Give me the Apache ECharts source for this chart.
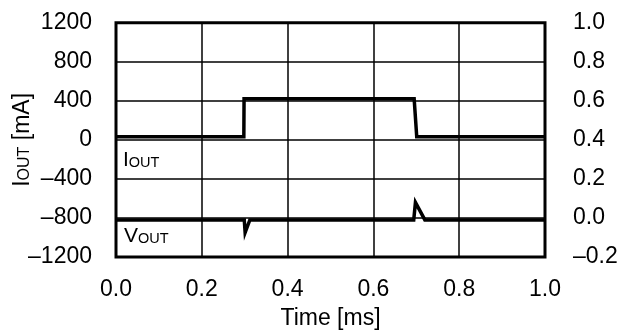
<!DOCTYPE html>
<html>
<head>
<meta charset="utf-8">
<script src="https://cdn.jsdelivr.net/npm/echarts@6/dist/echarts.min.js"></script>
<style>html,body{margin:0;padding:0;background:#fff;}#c{width:625px;height:335px;}</style>
</head>
<body>
<div id="c"></div>
<script>
// Data
const xTicks = [0, 0.2, 0.4, 0.6, 0.8, 1.0];
const leftTicks = [-1200, -800, -400, 0, 400, 800, 1200];
const rightTicks = [-0.2, 0, 0.2, 0.4, 0.6, 0.8, 1.0];
const iTime = [0, 0.298, 0.2985, 0.695, 0.701, 1.0];
const iCurrent = [33, 33, 420, 420, 33, 33];
const vTime = [0, 0.299, 0.301, 0.312, 0.694, 0.698, 0.72, 1.0];
const vOut = [-0.01, -0.01, -0.075, -0.01, -0.01, 0.08, -0.01, -0.01];

const FONT = 'Liberation Sans, Arial, sans-serif';
const FS = 23;
const dash = s => s.replace('-', '\u2013');
const rich = {
  a: {fontSize: FS, fontFamily: FONT, color: '#000', verticalAlign: 'bottom'},
  b: {fontSize: 16, fontFamily: FONT, color: '#000', verticalAlign: 'bottom', padding: [0, 0, 1, 0]}
};
const richS = {
  a: {fontSize: 21, fontFamily: FONT, color: '#000', verticalAlign: 'bottom'},
  b: {fontSize: 14.5, fontFamily: FONT, color: '#000', verticalAlign: 'bottom', padding: [0, 0, 1, 0]}
};

const chart = echarts.init(document.getElementById('c'), null, {renderer: 'canvas'});
chart.setOption({
  animation: false,
  backgroundColor: '#fff',
  grid: {left: 116, right: 80, top: 22.7, bottom: 78, show: true, borderColor: '#000', borderWidth: 3, containLabel: false, outerBoundsMode: 'none'},
  xAxis: {
    type: 'value', min: xTicks[0], max: xTicks[xTicks.length - 1], interval: 0.2,
    name: 'Time [ms]', nameLocation: 'middle', nameGap: 50, nameMoveOverlap: false,
    nameTextStyle: {fontSize: FS, fontFamily: FONT, color: '#000'},
    axisLine: {show: false}, axisTick: {show: false},
    axisLabel: {fontSize: FS, fontFamily: FONT, color: '#000', margin: 21, formatter: v => dash(v.toFixed(1))},
    splitLine: {show: true, lineStyle: {color: '#000', width: 1.5}}
  },
  yAxis: [{
    type: 'value', min: leftTicks[0], max: leftTicks[leftTicks.length - 1], interval: 400,
    name: '{a|I}{b|OUT}{a| [mA]}', nameLocation: 'middle', nameGap: 82, nameRotate: 90, nameMoveOverlap: false,
    nameTextStyle: {rich: rich},
    axisLine: {show: false}, axisTick: {show: false},
    axisLabel: {fontSize: FS, fontFamily: FONT, color: '#000', margin: 24, formatter: v => dash(String(v))},
    splitLine: {show: true, lineStyle: {color: '#000', width: 1.5}}
  }, {
    type: 'value', min: rightTicks[0], max: rightTicks[rightTicks.length - 1], interval: 0.2,
    axisLine: {show: false}, axisTick: {show: false},
    axisLabel: {fontSize: FS, fontFamily: FONT, color: '#000', margin: 28, formatter: v => dash(v.toFixed(1))},
    splitLine: {show: false}
  }],
  graphic: [
    {type: 'text', left: 123, top: 150, z: 100, style: {text: '{a|I}{b|OUT}', rich: richS}},
    {type: 'text', left: 124, top: 226, z: 100, style: {text: '{a|V}{b|OUT}', rich: richS}}
  ],
  series: [{
    type: 'line', yAxisIndex: 0, showSymbol: false, symbol: 'none',
    data: iTime.map((t, k) => [t, iCurrent[k]]),
    lineStyle: {color: '#000', width: 3.5, join: 'miter'}, z: 10
  }, {
    type: 'line', yAxisIndex: 1, showSymbol: false, symbol: 'none',
    data: vTime.map((t, k) => [t, vOut[k]]),
    lineStyle: {color: '#000', width: 3.5, join: 'miter'}, z: 10
  }]
});
</script>
</body>
</html>
